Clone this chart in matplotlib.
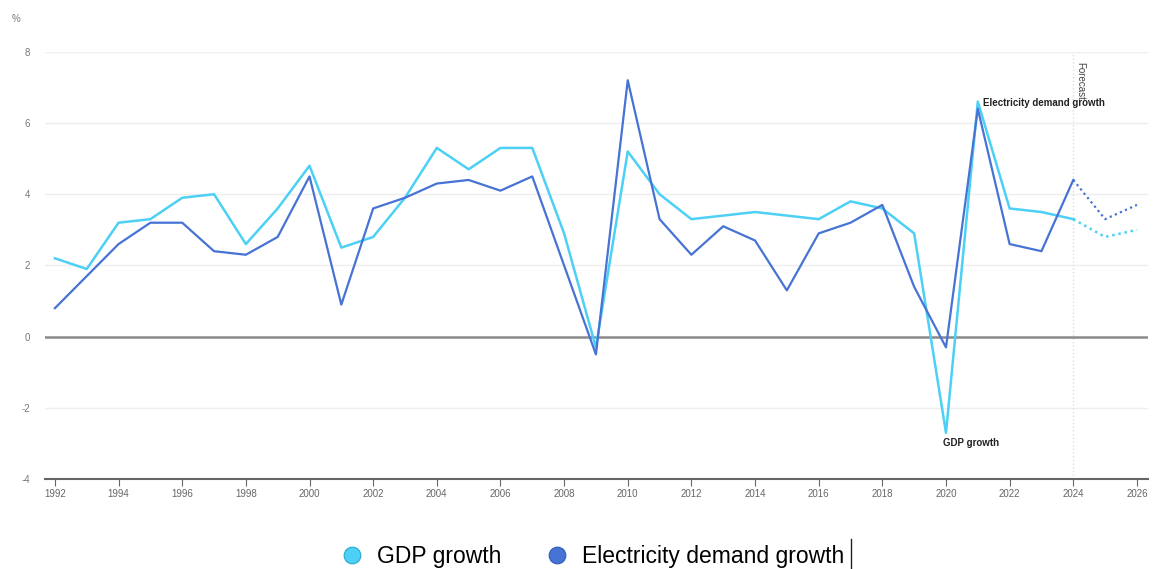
import matplotlib
matplotlib.use("Agg")
import matplotlib.pyplot as plt
from matplotlib.lines import Line2D

years = list(range(1992, 2027))
gdp = [2.2, 1.9, 3.2, 3.3, 3.9, 4.0, 2.6, 3.6, 4.8, 2.5,
       2.8, 3.9, 5.3, 4.7, 5.3, 5.3, 2.9, -0.3, 5.2, 4.0,
       3.3, 3.4, 3.5, 3.4, 3.3, 3.8, 3.6, 2.9, -2.7, 6.6,
       3.6, 3.5, 3.3, 2.8, 3.0]
elec = [0.8, 1.7, 2.6, 3.2, 3.2, 2.4, 2.3, 2.8, 4.5, 0.9,
        3.6, 3.9, 4.3, 4.4, 4.1, 4.5, 2.0, -0.5, 7.2, 3.3,
        2.3, 3.1, 2.7, 1.3, 2.9, 3.2, 3.7, 1.4, -0.3, 6.4,
        2.6, 2.4, 4.4, 3.3, 3.7]
forecast_start = 2024
xticks = list(range(1992, 2027, 2))
yticks = [-4, -2, 0, 2, 4, 6, 8]

c_gdp = '#4dd0f5'
c_elec = '#4673d4'

plt.rcParams['font.family'] = ['Liberation Sans', 'DejaVu Sans']
plt.rcParams['axes.unicode_minus'] = False

fig = plt.figure(figsize=(11.55, 5.69), dpi=100)
ax = fig.add_axes([0.039, 0.158, 0.955, 0.751])

k = years.index(forecast_start) + 1
ax.plot(years[:k], gdp[:k], color=c_gdp, lw=1.8, zorder=3)
ax.plot(years[k - 1:], gdp[k - 1:], color=c_gdp, lw=1.8, ls=(0, (1, 1.5)), zorder=3)
ax.plot(years[:k], elec[:k], color=c_elec, lw=1.6, zorder=4)
ax.plot(years[k - 1:], elec[k - 1:], color=c_elec, lw=1.6, ls=(0, (1, 1.5)), zorder=4)

ax.set_xlim(1991.69, 2026.35)
ax.set_ylim(-4, 8)

for y in yticks:
    if y in (0, -4):
        continue
    ax.axhline(y, color='#eeeeee', lw=1, zorder=1)
ax.axhline(0, color='#8a8a8a', lw=1.8, zorder=2)
ax.axvline(forecast_start, color='#dddddd', lw=1, ls=':', zorder=1)
ax.text(forecast_start + 0.05, 7.7, 'Forecast', rotation=270, fontsize=7,
        color='#444444', ha='left', va='top')

ax.text(2021.15, 6.55, 'Electricity demand growth', fontsize=7, fontweight='bold',
        color='#222222', ha='left', va='center')
ax.text(2019.9, -3.0, 'GDP growth', fontsize=7, fontweight='bold',
        color='#222222', ha='left', va='center')

for s in ['top', 'right', 'left']:
    ax.spines[s].set_visible(False)
ax.spines['bottom'].set_color('#666666')
ax.spines['bottom'].set_linewidth(1.5)

ax.set_xticks(xticks)
ax.set_xticklabels([str(x) for x in xticks])
ax.set_yticks(yticks)
ax.tick_params(axis='x', length=5, color='#666666', labelsize=7, labelcolor='#666666', pad=2)
ax.tick_params(axis='y', length=0, labelsize=7, labelcolor='#777777', pad=11)
fig.text(0.010, 0.962, '%', fontsize=7, color='#777777')

handles = [
    Line2D([], [], marker='o', ls='none', markersize=12, markerfacecolor=c_gdp,
           markeredgecolor='#2aa8cc', markeredgewidth=0.8),
    Line2D([], [], marker='o', ls='none', markersize=12, markerfacecolor=c_elec,
           markeredgecolor='#2f5bb5', markeredgewidth=0.8),
]
fig.legend(handles, ['GDP growth', 'Electricity demand growth'], loc='center',
           bbox_to_anchor=(0.508, 0.022), ncol=2, frameon=False, fontsize=16.5,
           handletextpad=0.1, columnspacing=1.4)
fig.add_artist(Line2D([0.737, 0.737], [0.0, 0.052], color='#222222', lw=1))

fig.savefig('out.png', dpi=100)
